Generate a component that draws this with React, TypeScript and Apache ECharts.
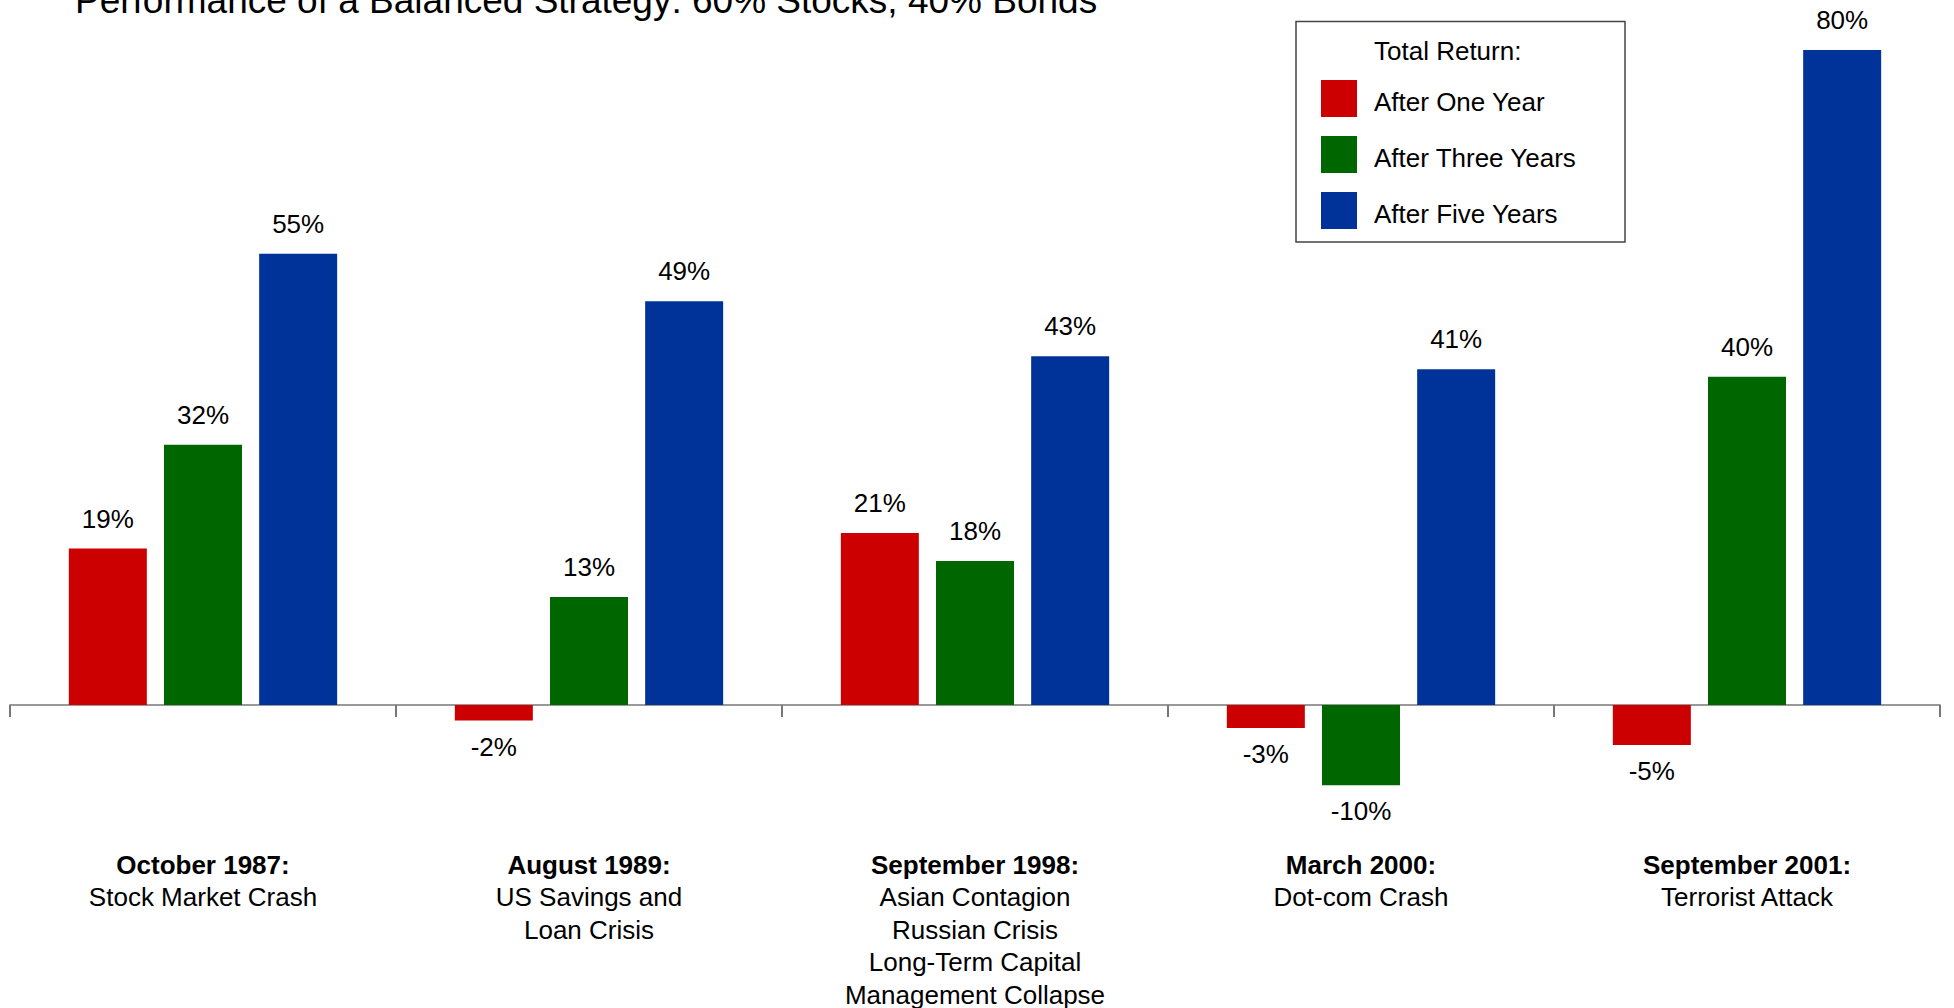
import React, { useEffect, useRef } from 'react';
import * as echarts from 'echarts';

const FONT = '"Liberation Sans", Arial, Helvetica, sans-serif';

const titleText = 'Performance of a Balanced Strategy: 60% Stocks, 40% Bonds';
const legendTitle = 'Total Return:';

const categories = [
  'October 1987:\nStock Market Crash',
  'August 1989:\nUS Savings and\nLoan Crisis',
  'September 1998:\nAsian Contagion\nRussian Crisis\nLong-Term Capital\nManagement Collapse',
  'March 2000:\nDot-com Crash',
  'September 2001:\nTerrorist Attack',
];

const seriesNames = ['After One Year', 'After Three Years', 'After Five Years'];
const seriesColors = ['#CC0000', '#006600', '#003399'];

const afterOneYear = [19.1, -1.9, 21.0, -2.8, -4.9];
const afterThreeYears = [31.8, 13.2, 17.6, -9.8, 40.1];
const afterFiveYears = [55.1, 49.3, 42.6, 41.0, 80.0];

export default function App() {
  const ref = useRef<HTMLDivElement>(null);

  useEffect(() => {
    const chart = echarts.init(ref.current!, null, { renderer: 'svg' });

    const makeSeries = (name: string, values: number[], color: string) => ({
      name,
      type: 'bar',
      barWidth: 78,
      barGap: '22%',
      itemStyle: { color },
      label: {
        show: true,
        fontSize: 26,
        fontFamily: FONT,
        color: '#000',
        formatter: (p: any) => `${Math.round(p.value)}%`,
      },
      data: values.map((v) => ({
        value: v,
        label: { position: v < 0 ? 'bottom' : 'top', distance: v < 0 ? 13 : 17 },
      })),
    });

    chart.setOption({
      animation: false,
      backgroundColor: '#ffffff',
      textStyle: { fontFamily: FONT },
      grid: { left: 10, right: 14, top: 50, bottom: 180.2, containLabel: false, outerBoundsMode: 'none' },
      xAxis: {
        type: 'category',
        data: categories,
        axisLine: { onZero: true, lineStyle: { color: '#777', width: 1.7 } },
        axisTick: { show: true, length: 12, lineStyle: { color: '#777', width: 2 } },
        splitLine: { show: false },
        axisLabel: {
          interval: 0,
          margin: 21,
          formatter: (value: string) =>
            value
              .split('\n')
              .map((s, i) => (i === 0 ? `{b|${s}}` : `{n|${s}}`))
              .join('\n'),
          rich: {
            b: { fontWeight: 'bold', fontSize: 26, lineHeight: 32.4, color: '#000', fontFamily: FONT },
            n: { fontSize: 26, lineHeight: 32.4, color: '#000', fontFamily: FONT },
          },
        },
      },
      yAxis: { type: 'value', min: -15, max: 80, show: false, splitLine: { show: false } },
      legend: {
        orient: 'vertical',
        left: 1321,
        top: 80,
        itemWidth: 36,
        itemHeight: 37,
        itemGap: 19,
        icon: 'rect',
        padding: 0,
        selectedMode: false,
        formatter: '{t|{name}}',
        textStyle: {
          fontSize: 26,
          color: '#000',
          fontFamily: FONT,
          rich: { t: { fontSize: 26, color: '#000', fontFamily: FONT, padding: [6, 0, 0, 12] } },
        },
        data: seriesNames,
      },
      graphic: [
        {
          type: 'text',
          x: 75,
          y: 0,
          style: { text: titleText, fontSize: 37, fontFamily: FONT, fill: '#000', verticalAlign: 'middle', align: 'left' },
        },
        {
          type: 'rect',
          shape: { x: 1296, y: 21.5, width: 329, height: 220.5 },
          style: { fill: 'none', stroke: '#444', lineWidth: 1.5 },
        },
        {
          type: 'text',
          x: 1374,
          y: 51,
          style: { text: legendTitle, fontSize: 26, fontFamily: FONT, fill: '#000', verticalAlign: 'middle', align: 'left' },
        },
      ],
      series: [
        makeSeries(seriesNames[0], afterOneYear, seriesColors[0]),
        makeSeries(seriesNames[1], afterThreeYears, seriesColors[1]),
        makeSeries(seriesNames[2], afterFiveYears, seriesColors[2]),
      ],
    });

    return () => chart.dispose();
  }, []);

  return <div ref={ref} style={{ position: 'fixed', left: 0, top: 0, width: 1954, height: 1008 }} />;
}
